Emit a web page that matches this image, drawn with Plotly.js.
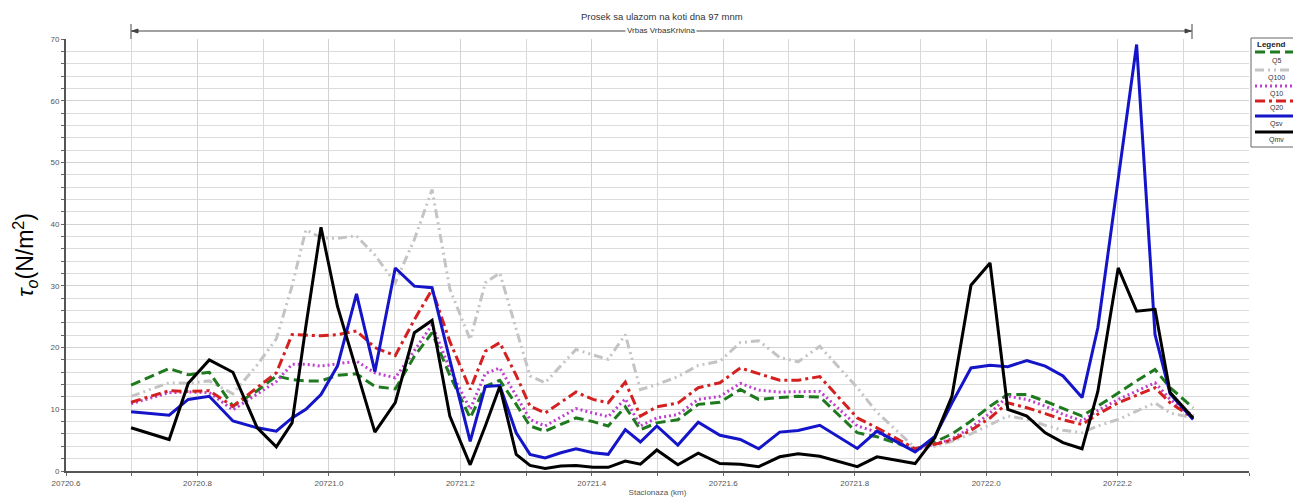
<!DOCTYPE html>
<html>
<head>
<meta charset="utf-8">
<script src="https://cdn.plot.ly/plotly-3.0.1.min.js"></script>
<style>html,body{margin:0;padding:0;background:#fff;}#chart{width:1293px;height:499px;}</style>
</head>
<body>
<div id="chart"></div>
<script>
// River stations (km)
var stationKm = [20720.699, 20720.757, 20720.786, 20720.818, 20720.854, 20720.891, 20720.920, 20720.944, 20720.965, 20720.988,
  20721.013, 20721.042, 20721.070, 20721.101, 20721.130, 20721.157, 20721.184, 20721.215, 20721.238, 20721.260,
  20721.285, 20721.306, 20721.329, 20721.353, 20721.376, 20721.402, 20721.425, 20721.451, 20721.474, 20721.499,
  20721.531, 20721.562, 20721.595, 20721.626, 20721.654, 20721.686, 20721.714, 20721.747, 20721.804, 20721.834,
  20721.892, 20721.922, 20721.948, 20721.977, 20722.006, 20722.033, 20722.062, 20722.090, 20722.117, 20722.146,
  20722.170, 20722.201, 20722.229, 20722.257, 20722.280, 20722.315];

// x-axis tick labels
var xTickVals = [20720.6, 20720.8, 20721.0, 20721.2, 20721.4, 20721.6, 20721.8, 20722.0, 20722.2];
var xTickText = ["20720.6", "20720.8", "20721.0", "20721.2", "20721.4", "20721.6", "20721.8", "20722.0", "20722.2"];

var seriesNames = ["Q5", "Q100", "Q10", "Q20", "Qsv", "Qmv"];

var q5 = [13.9, 16.6, 15.6, 16.0, 10.5, 13.0, 15.4, 14.8, 14.6, 14.6,
  15.5, 15.75, 13.7, 13.3, 18.6, 22.4, 15.5, 8.6, 13.7, 14.7,
  10.8, 7.3, 6.45, 7.6, 8.6, 8.0, 7.3, 10.4, 6.7, 7.8,
  8.3, 10.8, 11.15, 13.2, 11.6, 11.9, 12.1, 12.0, 6.2, 5.55,
  3.5, 4.7, 6.0, 8.1, 10.5, 12.4, 12.4, 11.3, 10.1, 8.9,
  10.5, 12.7, 14.6, 16.45, 13.5, 10.25];

var q100 = [12.1, 14.3, 14.2, 14.6, 12.5, 17.2, 21.4, 30.0, 39.1, 37.8,
  37.7, 38.1, 35.0, 30.5, 37.5, 45.6, 29.5, 21.3, 30.5, 32.1,
  23.0, 15.4, 14.3, 17.0, 19.7, 18.8, 18.1, 22.1, 13.2, 14.0,
  15.3, 17.1, 17.8, 20.8, 21.1, 18.4, 17.7, 20.2, 13.5, 9.5,
  3.75, 4.0, 4.8, 6.0, 7.55, 8.9, 8.4, 7.4, 6.6, 6.2,
  7.3, 8.35, 9.7, 11.05, 9.4, 8.6];

var q10 = [10.9, 12.7, 12.8, 12.7, 9.9, 12.5, 14.5, 17.3, 17.3, 17.0,
  17.4, 17.8, 15.9, 15.1, 19.5, 23.7, 16.5, 10.0, 15.8, 16.7,
  12.2, 8.35, 7.3, 8.8, 10.1, 9.4, 8.8, 11.7, 7.3, 8.6,
  9.15, 11.6, 12.1, 14.2, 13.1, 12.8, 12.9, 12.9, 7.3, 6.3,
  3.4, 4.3, 5.2, 7.0, 9.4, 12.1, 11.6, 10.5, 9.2, 8.1,
  9.8, 11.6, 13.0, 14.3, 11.6, 8.9];

var q20 = [11.15, 13.0, 12.9, 13.0, 10.5, 13.5, 15.9, 22.1, 22.0, 21.9,
  22.1, 22.7, 20.0, 18.7, 24.5, 29.4, 21.0, 13.2, 19.4, 20.8,
  15.5, 10.5, 9.4, 11.2, 12.8, 11.6, 11.05, 14.4, 8.9, 10.4,
  11.0, 13.5, 14.3, 16.7, 15.8, 14.7, 14.7, 15.3, 8.6, 7.0,
  3.6, 4.3, 5.0, 6.6, 8.6, 11.05, 10.25, 9.3, 8.3, 7.55,
  9.2, 11.05, 12.3, 13.5, 11.05, 8.6];

var qsv = [9.6, 9.05, 11.6, 12.1, 8.1, 7.0, 6.45, 8.6, 10.0, 12.4,
  17.0, 28.7, 16.1, 32.9, 29.95, 29.7, 18.0, 4.8, 13.7, 13.85,
  6.2, 2.7, 2.1, 2.95, 3.6, 2.95, 2.7, 6.7, 4.7, 7.3,
  4.2, 7.9, 5.8, 5.1, 3.6, 6.3, 6.55, 7.4, 3.65, 6.45,
  3.1, 5.6, 11.0, 16.7, 17.15, 16.9, 17.9, 17.0, 15.4, 11.9,
  23.2, 47.0, 69.1, 22.1, 12.5, 8.35];

var qmv = [7.0, 5.1, 14.2, 18.0, 16.0, 7.0, 3.9, 7.8, 23.5, 39.5,
  26.7, 16.5, 6.3, 11.1, 22.4, 24.4, 8.9, 1.0, 7.3, 13.7,
  2.7, 0.9, 0.4, 0.8, 0.9, 0.6, 0.6, 1.6, 1.1, 3.4,
  1.0, 2.9, 1.2, 1.1, 0.7, 2.3, 2.8, 2.4, 0.7, 2.3,
  1.2, 5.4, 12.1, 30.1, 33.7, 10.0, 8.9, 6.2, 4.6, 3.6,
  12.9, 32.9, 25.9, 26.2, 12.7, 8.6];

var titleText = "Prosek sa ulazom na koti dna 97 mnm";
var subtitleText = "Vrbas VrbasKrivina";
var xTitle = "Stacionaza (km)";
var yTitle = "<i>τ<sub>o</sub></i>(N/m<sup>2</sup>)";

var styles = {
  Q5:   {color: "#1f7a1f", dash: "10px,5px", width: 3},
  Q100: {color: "#c4c4c4", dash: "9px,4px,2px,4px,2px,4px", width: 3},
  Q10:  {color: "#c03fd0", dash: "2px,3px", width: 3},
  Q20:  {color: "#d42020", dash: "10px,4px,3px,4px", width: 3},
  Qsv:  {color: "#1414c8", dash: "solid", width: 3},
  Qmv:  {color: "#000000", dash: "solid", width: 3}
};
var valuesByName = {Q5: q5, Q100: q100, Q10: q10, Q20: q20, Qsv: qsv, Qmv: qmv};

// draw order: lighter first, then solid on top
var drawOrder = ["Q100", "Q5", "Q10", "Q20", "Qsv", "Qmv"];
var traces = drawOrder.map(function (n) {
  return {
    x: stationKm, y: valuesByName[n], name: n, type: "scatter", mode: "lines",
    line: {color: styles[n].color, dash: styles[n].dash, width: styles[n].width},
    showlegend: false, hoverinfo: "skip"
  };
});

var L = 66, R = 44, T = 39, B = 28, W = 1293, H = 499;
var pw = W - L - R, ph = H - T - B;
function px(x) { return (x - L) / pw; }
function py(y) { return (H - B - y) / ph; }

var shapes = [];
var annotations = [];

// header span line with arrows
shapes.push({type: "line", xref: "paper", yref: "paper", x0: px(131), x1: px(1192), y0: py(31), y1: py(31), line: {color: "#444", width: 1}});
shapes.push({type: "line", xref: "paper", yref: "paper", x0: px(131), x1: px(131), y0: py(24), y1: py(39), line: {color: "#444", width: 1}});
shapes.push({type: "line", xref: "paper", yref: "paper", x0: px(1192), x1: px(1192), y0: py(24), y1: py(39), line: {color: "#444", width: 1}});
shapes.push({type: "path", xref: "paper", yref: "paper",
  path: "M" + px(132) + "," + py(31) + " L" + px(138) + "," + py(29) + " L" + px(138) + "," + py(33) + " Z",
  fillcolor: "#444", line: {color: "#444", width: 1}});
shapes.push({type: "path", xref: "paper", yref: "paper",
  path: "M" + px(1191) + "," + py(31) + " L" + px(1185) + "," + py(29) + " L" + px(1185) + "," + py(33) + " Z",
  fillcolor: "#444", line: {color: "#444", width: 1}});

annotations.push({xref: "paper", yref: "paper", x: px(662), y: py(16), text: titleText, showarrow: false,
  xanchor: "center", yanchor: "middle", font: {family: "Liberation Sans, Arial, sans-serif", size: 9.5, color: "#333"}});
annotations.push({xref: "paper", yref: "paper", x: px(661), y: py(31), text: subtitleText, showarrow: false,
  xanchor: "center", yanchor: "middle", bgcolor: "#ffffff", borderpad: 1,
  font: {family: "Liberation Sans, Arial, sans-serif", size: 8, color: "#333"}});

// custom legend box
shapes.push({type: "rect", xref: "paper", yref: "paper", x0: px(1251), x1: px(1305), y0: py(38), y1: py(147),
  line: {color: "#666", width: 1}, fillcolor: "#ffffff", layer: "above"});
annotations.push({xref: "paper", yref: "paper", x: px(1255), y: py(44), text: "<b>Legend</b>", showarrow: false,
  xanchor: "left", yanchor: "middle", font: {family: "Liberation Sans, Arial, sans-serif", size: 8, color: "#222"}});
var legendOrder = ["Q5", "Q100", "Q10", "Q20", "Qsv", "Qmv"];
var sampleY = [52, 70, 86, 101, 116, 132];
var labelY = [61, 78, 94, 108, 124, 140];
legendOrder.forEach(function (n, i) {
  shapes.push({type: "line", xref: "paper", yref: "paper", x0: px(1255), x1: px(1300), y0: py(sampleY[i]), y1: py(sampleY[i]),
    line: {color: styles[n].color, dash: styles[n].dash, width: styles[n].width}, layer: "above"});
  annotations.push({xref: "paper", yref: "paper", x: px(1276), y: py(labelY[i]), text: n, showarrow: false,
    xanchor: "center", yanchor: "middle", font: {family: "Liberation Sans, Arial, sans-serif", size: 7, color: "#333"}});
});

var layout = {
  width: W, height: H,
  margin: {l: L, r: R, t: T, b: B, pad: 0},
  paper_bgcolor: "#ffffff", plot_bgcolor: "#ffffff",
  showlegend: false,
  font: {family: "Liberation Sans, Arial, sans-serif", color: "#555"},
  xaxis: {
    range: [20720.6, 20722.4], tickmode: "array", tickvals: xTickVals, ticktext: xTickText,
    showgrid: true, gridcolor: "#d2d2d2", gridwidth: 1,
    minor: {tickmode: "linear", tick0: 20720.6, dtick: 0.1, showgrid: true, gridcolor: "#d8d8d8", ticks: "outside", ticklen: 3, tickcolor: "#666"},
    showline: true, linecolor: "#555", linewidth: 2, zeroline: false,
    ticks: "outside", ticklen: 3, tickcolor: "#666",
    tickfont: {size: 8, color: "#555"},
    title: {text: xTitle, font: {size: 8, color: "#555"}, standoff: 3}
  },
  yaxis: {
    range: [0, 70], dtick: 10, tick0: 0,
    showgrid: true, gridcolor: "#d2d2d2", gridwidth: 1,
    minor: {dtick: 2, showgrid: true, gridcolor: "#dcdcdc", ticks: "outside", ticklen: 3, tickcolor: "#666"},
    showline: true, linecolor: "#555", linewidth: 2, zeroline: false,
    ticks: "outside", ticklen: 3, tickcolor: "#666",
    tickfont: {size: 8, color: "#555"},
    title: {text: yTitle, font: {family: "Liberation Sans, Arial, sans-serif", size: 23, color: "#000"}, standoff: 10}
  },
  shapes: shapes,
  annotations: annotations
};

Plotly.newPlot("chart", traces, layout, {displayModeBar: false, staticPlot: true});
</script>
</body>
</html>
